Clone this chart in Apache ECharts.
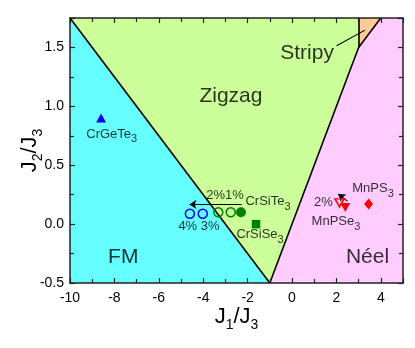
<!DOCTYPE html>
<html>
<head>
<meta charset="utf-8">
<script src="https://cdn.jsdelivr.net/npm/echarts@6/dist/echarts.min.js"></script>
<style>
  html, body { margin: 0; padding: 0; background: #fff; }
  #chart { width: 415px; height: 348px; }
</style>
</head>
<body>
<div id="chart"></div>
<script>
// phase regions (J1/J3, J2/J3)
const regionNames = ['FM', 'Zigzag', 'Stripy', 'Néel'];
const regionColors = ['#66ffff', '#ccff99', '#ffcc99', '#ffccff'];
const regionVertices = [
  [[-10, 1.75], [-1, -0.5], [-10, -0.5]],
  [[-10, 1.75], [3, 1.75], [3, 1.5], [-1, -0.5]],
  [[3, 1.75], [4, 1.75], [3, 1.5]],
  [[-1, -0.5], [3, 1.5], [4, 1.75], [5, 1.75], [5, -0.5]]
];
const boundaries = [
  [[-10, 1.75], [-1, -0.5]],
  [[-1, -0.5], [3, 1.5]],
  [[3, 1.5], [3, 1.75]],
  [[3, 1.5], [4, 1.75]]
];

// region label text and where it sits
const regionLabelX = [-7.6, -2.75, 0.68, 3.4];
const regionLabelY = [-0.28, 1.09, 1.455, -0.28];
const regionLabelText = ['FM', 'Zigzag', 'Stripy', 'Néel'];

// materials
const crGeTe3 = [[-8.6, 0.9]];
const crSiTe3 = [[-2.3, 0.1]];
const crSiTe3Strained = [[-2.76, 0.1], [-3.32, 0.1]];
const crSiTe3FM = [[-4.02, 0.088], [-4.6, 0.088]];
const crSiSe3 = [[-1.62, 0.0]];
const mnPS3 = [[3.45, 0.17]];
const mnPSe3 = [[2.4, 0.14]];
const mnPSe3Strained = [[2.14, 0.18]];

// arrows and pointer line
const arrows = [
  [[-2.27, 0.167], [-4.62, 0.167]],
  [[2.5, 0.195], [2.08, 0.255]]
];
const pointerLines = [
  [[2.01, 1.514], [3.29, 1.647]]
];

// annotation text ("_3" = subscript)
const noteText = ['CrGeTe_3', '2%1%', 'CrSiTe_3', '4% 3%', 'CrSiSe_3', '2%', 'MnPS_3', 'MnPSe_3'];
const noteX = [-8.12, -3.02, -1.08, -4.19, -1.44, 1.41, 3.65, 1.98];
const noteY = [0.74, 0.225, 0.17, -0.04, -0.11, 0.165, 0.28, 0.0];

const xTicks = { min: -10, max: 5, interval: 2 };
const yTicks = { min: -0.5, max: 1.75, interval: 0.5 };

function toRich(str, key) {
  const parts = str.split(/_(\d)/);
  return parts.map((p, i) => (i % 2 ? `{${key}s|${p}}` : (p ? `{${key}m|${p}}` : ''))).join('');
}

const FONT = 'Liberation Sans, Arial, sans-serif';
const rich = {
  // small annotation text
  nm: { fontFamily: FONT, fontSize: 13, lineHeight: 13, color: '#000', padding: [0, 0, 5, 0] },
  ns: { fontFamily: FONT, fontSize: 11, lineHeight: 11, color: '#000', padding: [5, 0, 0, 0] },
  // axis names
  am: { fontFamily: FONT, fontSize: 22, lineHeight: 22, color: '#000', padding: [0, 0, 8, 0] },
  as: { fontFamily: FONT, fontSize: 14, lineHeight: 14, color: '#000', padding: [8, 0, 0, 0] }
};

const axisLine = { show: true, onZero: false, lineStyle: { color: '#222', width: 1.5 } };

function xAxis(pos, labels) {
  return {
    type: 'value', position: pos, min: xTicks.min, max: xTicks.max, interval: xTicks.interval, z: 10,
    axisLine: axisLine,
    axisTick: { show: true, inside: true, length: 5, lineStyle: { color: '#222', width: 1.2 } },
    minorTick: { show: true, splitNumber: 2, length: 4, lineStyle: { color: '#222', width: 1.2 } },
    splitLine: { show: false },
    axisLabel: labels ? { show: true, color: '#000', fontSize: 14, fontFamily: FONT, margin: 8, showMaxLabel: false } : { show: false },
    name: labels ? toRich('J_1/J_3', 'a') : '',
    nameLocation: 'middle', nameGap: 27, nameMoveOverlap: false,
    nameTextStyle: { rich: rich }
  };
}
function yAxis(pos, labels) {
  return {
    type: 'value', position: pos, min: yTicks.min, max: yTicks.max, interval: yTicks.interval, z: 10,
    axisLine: axisLine,
    axisTick: { show: true, inside: true, length: 5, lineStyle: { color: '#222', width: 1.2 } },
    minorTick: { show: true, splitNumber: 2, length: 4, lineStyle: { color: '#222', width: 1.2 } },
    splitLine: { show: false },
    axisLabel: labels ? { show: true, color: '#000', fontSize: 14, fontFamily: FONT, margin: 6, showMaxLabel: false,
      formatter: v => v.toFixed(1) } : { show: false },
    name: labels ? toRich('J_2/J_3', 'a') : '',
    nameLocation: 'middle', nameGap: 25, nameMoveOverlap: false,
    nameTextStyle: { rich: rich }
  };
}

function marker(data, symbol, size, fill, stroke, rotate) {
  return {
    type: 'scatter', data: data, symbol: symbol, symbolSize: size, symbolRotate: rotate || 0, z: 5,
    itemStyle: { color: fill, borderColor: stroke, borderWidth: fill === 'transparent' ? 1.5 : 0, opacity: 1 }
  };
}

const chart = echarts.init(document.getElementById('chart'), null, { renderer: 'canvas' });

const option = {
  animation: false,
  grid: { left: 70, right: 12, top: 18, bottom: 65, containLabel: false, outerBoundsMode: 'none' },
  xAxis: [xAxis('bottom', true), xAxis('top', false)],
  yAxis: [yAxis('left', true), yAxis('right', false)],
  series: [
    {
      type: 'custom', z: 1,
      data: regionNames.map((n, i) => ({ name: n, value: regionVertices[i][0] })),
      renderItem: function (params, api) {
        const pts = regionVertices[params.dataIndex].map(p => api.coord(p));
        return { type: 'polygon', shape: { points: pts }, style: { fill: regionColors[params.dataIndex] } };
      }
    },
    {
      type: 'lines', coordinateSystem: 'cartesian2d', z: 2,
      data: boundaries.map(b => ({ coords: b })),
      lineStyle: { color: '#000', width: 1.6, opacity: 1 }, symbol: 'none'
    },
    {
      type: 'lines', coordinateSystem: 'cartesian2d', z: 3,
      data: pointerLines.map(b => ({ coords: b })),
      lineStyle: { color: '#000', width: 1.1, opacity: 1 }, symbol: 'none'
    },
    {
      type: 'lines', coordinateSystem: 'cartesian2d', z: 4,
      data: arrows.map(b => ({ coords: b })),
      lineStyle: { color: '#000', width: 1.2, opacity: 1 },
      symbol: ['none', 'arrow'], symbolSize: 7
    },
    marker(crGeTe3, 'triangle', [10, 9], '#0000ff', '#0000ff'),
    marker(crSiTe3, 'circle', 10, '#008000', '#008000'),
    marker(crSiTe3Strained, 'circle', 9, 'transparent', '#008000'),
    marker(crSiTe3FM, 'circle', 9, 'transparent', '#0000ff'),
    marker(crSiSe3, 'rect', 8.5, '#008000', '#008000'),
    marker(mnPS3, 'diamond', [9, 11], '#ff0000', '#ff0000'),
    marker(mnPSe3, 'triangle', [10, 9], '#ff0000', '#ff0000', 180),
    marker(mnPSe3Strained, 'triangle', [9, 8], 'transparent', '#ff0000', 180),
    {
      type: 'scatter', symbolSize: 0, z: 6,
      data: regionLabelText.map((t, i) => ({ name: t, value: [regionLabelX[i], regionLabelY[i]] })),
      label: { show: true, position: 'inside', formatter: p => p.name, color: '#000', fontSize: 21, fontFamily: FONT }
    },
    {
      type: 'scatter', symbolSize: 0, z: 6,
      data: noteText.map((t, i) => ({ name: t, value: [noteX[i], noteY[i]] })),
      label: { show: true, position: 'inside', formatter: p => toRich(p.name, 'n'), rich: rich }
    }
  ]
};
chart.setOption(option);
</script>
</body>
</html>
